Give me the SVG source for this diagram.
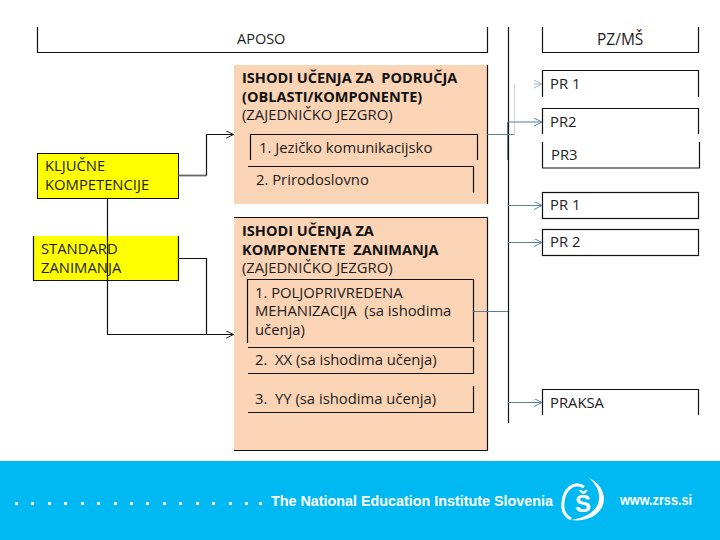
<svg xmlns="http://www.w3.org/2000/svg" width="720" height="540" viewBox="0 0 720 540">
<style>
text{font-family:"Open Sans","Noto Sans","Liberation Sans",sans-serif;font-size:14.800px;fill:#1c1c1c;white-space:pre}
.b{font-weight:700;fill:#111;font-size:14.500px}
.k{fill:none;stroke:#111;stroke-width:1.200}
.s{fill:none;stroke:#5b7f9c;stroke-width:1}
.peach{fill:#fbd3b5}
.yellow{fill:#ffff00}
.foot{font-family:"Liberation Sans",Arial,sans-serif;font-weight:700;fill:#fff}
</style>
<defs>
<marker id="ak" markerWidth="10" markerHeight="10" refX="8" refY="4" orient="auto" markerUnits="userSpaceOnUse"><path d="M0 0L8 4L0 8" fill="none" stroke="#222" stroke-width="1"/></marker>
<marker id="as" markerWidth="10" markerHeight="10" refX="8" refY="4" orient="auto" markerUnits="userSpaceOnUse"><path d="M0 0L8 4L0 8" fill="none" stroke="#5b7f9c" stroke-width="1"/></marker>
<marker id="al" markerWidth="10" markerHeight="10" refX="8" refY="4" orient="auto" markerUnits="userSpaceOnUse"><path d="M0 0L8 4L0 8" fill="none" stroke="#9fb4c6" stroke-width="1"/></marker>
</defs>
<rect width="720" height="540" fill="#fff"/>

<g id="aposo"><path class="k" d="M37.500 27V52.500H487.500V27"/><text x="237" y="44" style="font-size:14.500px">APOSO</text></g>
<g id="pzms"><path class="k" d="M542.500 27V52.500H698.500V27"/><text x="597" y="45" style="font-size:15.500px">PZ/MŠ</text></g>

<g id="podrocja">
<path class="peach" d="M234 65H487.500V204H234Z"/>
<path class="k" d="M487.500 65V204"/>
<text class="b" x="242" y="83">ISHODI UČENJA ZA  PODRUČJA</text>
<text class="b" x="242" y="102">(OBLASTI/KOMPONENTE)</text>
<text x="242" y="120">(ZAJEDNIČKO JEZGRO)</text>
</g>
<g id="jezicko"><path class="k" d="M250.500 160V134.500H477.500V160"/><text x="259" y="153">1. Jezičko komunikacijsko</text></g>
<g id="prirodoslovno"><path class="k" d="M248 166.500H473.500V192.500"/><text x="256" y="185">2. Prirodoslovno</text></g>

<g id="komponente">
<path class="peach" d="M234 217H487.500V450.500H234Z"/>
<path class="k" d="M234 217.500H487.500V450.500H234"/>
<text class="b" x="242" y="236">ISHODI UČENJA ZA</text>
<text class="b" x="242" y="255">KOMPONENTE  ZANIMANJA</text>
<text x="242" y="273">(ZAJEDNIČKO JEZGRO)</text>
</g>
<g id="mehanizacija"><path class="k" d="M247.500 343V279.500H473.500V342"/>
<text x="255" y="298">1. POLJOPRIVREDENA</text><text x="255" y="316">MEHANIZACIJA  (sa ishodima</text><text x="255" y="335">učenja)</text></g>
<g id="xx"><path class="k" d="M248 347.500H473.500V373.500H248"/><text x="255" y="365">2.  XX (sa ishodima učenja)</text></g>
<g id="yy"><path class="k" d="M473.500 386V412.500H248"/><text x="255" y="404">3.  YY (sa ishodima učenja)</text></g>

<g id="kljucne"><rect class="yellow" x="37.500" y="153.500" width="141" height="45" stroke="#111"/><text x="45" y="171">KLJUČNE</text><text x="45" y="190">KOMPETENCIJE</text></g>
<g id="standard"><rect class="yellow" x="33.500" y="236" width="145" height="44.500"/><path class="k" d="M33.500 236V280.500H178.500V236"/><text x="41" y="254">STANDARD</text><text x="41" y="273">ZANIMANJA</text></g>

<g id="pr1a"><path class="k" d="M542.500 97V70.500H698.500V97"/><text x="550" y="89">PR 1</text></g>
<g id="pr2a"><path class="k" d="M542.500 134V108.500H698.500V134"/><text x="550" y="127">PR2</text></g>
<g id="pr3"><path class="k" d="M542.500 142V168H699.500V142"/><text x="551" y="160">PR3</text></g>
<g id="pr1b"><rect class="k" x="542.500" y="192.500" width="156" height="26"/><text x="550" y="210">PR 1</text></g>
<g id="pr2b"><rect class="k" x="542.500" y="229.500" width="156" height="26"/><text x="550" y="247">PR 2</text></g>
<g id="praksa"><path class="k" d="M542.500 415V389.500H698.500V415"/><text x="550" y="408">PRAKSA</text></g>

<g id="connectors">
<path class="k" d="M508.500 27V423"/>
<path d="M178.500 175.500H206.500" fill="none" stroke="#666" stroke-width="1.800"/>
<path class="k" d="M206.500 175.500V134.500H233.500" marker-end="url(#ak)"/>
<path class="k" d="M107.500 198.500V334.500H233.500" marker-end="url(#ak)"/>
<path class="k" d="M178.500 258.500H206.500V334.500"/>
<path class="s" d="M487.500 134.500H514.500"/>
<path d="M514.500 134.500V84" fill="none" stroke="#ccd6de" stroke-width="1"/>
<path d="M534 84H542" fill="none" stroke="#9fb4c6" stroke-width="1" marker-end="url(#al)"/>
<path class="s" d="M507.500 160V122H542" marker-end="url(#as)"/>
<path class="s" d="M508 205.500H542" marker-end="url(#as)"/>
<path class="s" d="M508 242.500H542" marker-end="url(#as)"/>
<path class="s" d="M473.500 311.500H508"/>
<path class="s" d="M508 402.500H542" marker-end="url(#as)"/>
</g>

<g id="footer">
<rect x="0" y="461" width="720" height="79" fill="#00b9f2"/>
<g fill="#fff"><rect x="15" y="502" width="3" height="3"/><rect x="31" y="502" width="3" height="3"/><rect x="48" y="502" width="3" height="3"/><rect x="64" y="502" width="3" height="3"/><rect x="81" y="502" width="3" height="3"/><rect x="97" y="502" width="3" height="3"/><rect x="114" y="502" width="3" height="3"/><rect x="130" y="502" width="3" height="3"/><rect x="146" y="502" width="3" height="3"/><rect x="163" y="502" width="3" height="3"/><rect x="179" y="502" width="3" height="3"/><rect x="196" y="502" width="3" height="3"/><rect x="212" y="502" width="3" height="3"/><rect x="229" y="502" width="3" height="3"/><rect x="245" y="502" width="3" height="3"/><rect x="259" y="502" width="3" height="3"/></g>
<text class="foot" x="271" y="506" textLength="282" lengthAdjust="spacingAndGlyphs" style="fill:#fff;font-size:15px">The National Education Institute Slovenia</text>
<text class="foot" x="620" y="505" textLength="72" lengthAdjust="spacingAndGlyphs" style="fill:#fff;font-size:14px">www.zrss.si</text>
<path d="M589 478C602 484 607 497 602 507C597 517 584 522 571 520C584 518 594 513 598 504C601 495 598 486 589 478Z" fill="#fff"/>
<path d="M584 487C573 480 564 491 563 502C562 510 565 516 571 519" fill="none" stroke="#fff" stroke-width="3"/>
<text class="foot" x="583" y="512" text-anchor="middle" style="fill:#fff;font-size:24px">Š</text>
</g>
</svg>
